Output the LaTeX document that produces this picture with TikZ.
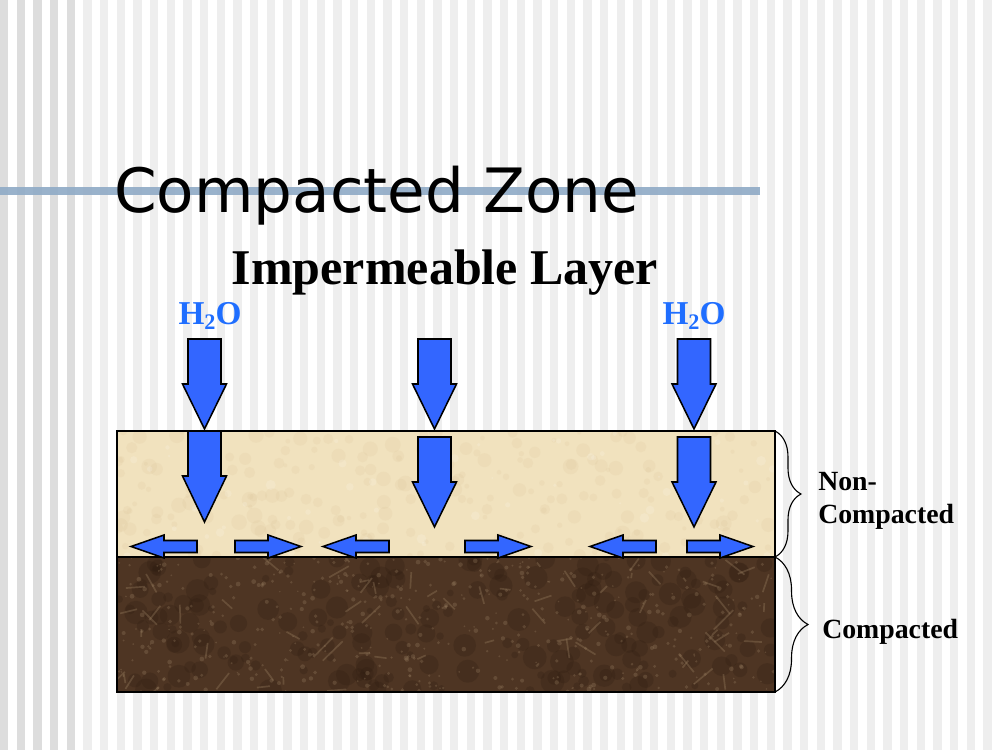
\documentclass[tikz,border=0pt]{standalone}
\usepackage{fontspec}
\setmainfont{Liberation Serif}
\newfontfamily\titlefont{DejaVu Sans}
\usepackage{tikz}
\usetikzlibrary{decorations.pathreplacing}
\definecolor{stripedk}{HTML}{DDDDDD}
\definecolor{stripelt}{HTML}{EEEEEE}
\definecolor{rule}{HTML}{8FAAC6}
\definecolor{water}{HTML}{3366FF}
\definecolor{htwo}{HTML}{1F6EFF}
\definecolor{sand}{HTML}{F1E2BE}
\definecolor{sanddk}{HTML}{D8C095}
\definecolor{soil}{HTML}{4E3523}
\definecolor{soillt}{HTML}{9A8062}
\definecolor{soildk}{HTML}{2E1D11}
\tikzset{
  blk/.style={draw=black, fill=water, line width=1.1pt, line join=miter},
  layer/.style={draw=black, line width=1.2pt},
  brc/.style={draw=black, line width=0.8pt, decorate, decoration={brace, amplitude=#1}},
  lab/.style={font=\bfseries\fontsize{20}{24}\selectfont, inner sep=0pt},
  h2o/.style={text=htwo, font=\bfseries\fontsize{24}{28}\selectfont, inner sep=0pt},
}
\newcommand{\subtwo}{\raisebox{-0.35ex}{\fontsize{16}{16}\selectfont 2}}
\begin{document}
\begin{tikzpicture}[x=0.72pt, y=-0.72pt]
  \useasboundingbox (0,0) rectangle (1000,750);
  \fill[white] (0,0) rectangle (1000,750);
  % background stripes
  \foreach \k in {0,...,4}
    \fill[stripedk] ({16.667*\k},0) rectangle +(8.4,750);
  \foreach \k in {5,...,59}
    \fill[stripelt] ({16.667*\k},0) rectangle +(8.4,750);
  \fill[rule, opacity=0.9] (0,187.5) rectangle (760,195.5);

  \node[font=\titlefont\fontsize{44}{50}\selectfont, anchor=base west, inner sep=0pt] (title) at (114,213) {Compacted Zone};
  \node[font=\bfseries\fontsize{36}{42}\selectfont, anchor=base, inner sep=0pt] (sub) at (445,285) {Impermeable Layer};
  \node[h2o, anchor=base] (h2oL) at (210,324) {H\subtwo O};
  \node[h2o, anchor=base] (h2oR) at (694,324) {H\subtwo O};

  % non-compacted layer
  \begin{scope}
    \clip (117,431) rectangle (775,557);
    \fill[sand] (117,431) rectangle (775,557);
    \pgfmathsetseed{11}
    \foreach \i in {1,...,220}
      \fill[sanddk, opacity=0.15] ({117+658*rnd},{431+126*rnd}) circle ({2+6*rnd});
    \foreach \i in {1,...,60}
      \fill[white, opacity=0.15] ({117+658*rnd},{431+126*rnd}) circle ({1+4*rnd});
  \end{scope}
  % compacted layer
  \begin{scope}
    \clip (117,557) rectangle (775,692);
    \fill[soil] (117,557) rectangle (775,692);
    \pgfmathsetseed{5}
    \foreach \i in {1,...,200}
      \fill[soildk, opacity=0.25] ({117+658*rnd},{557+135*rnd}) circle ({3+9*rnd});
    \foreach \i in {1,...,70}
      \draw[soillt, opacity=0.35, line width=1.2pt] ({117+658*rnd},{557+135*rnd}) -- ++({-20+40*rnd},{-20+40*rnd});
    \foreach \i in {1,...,500}
      \fill[soillt, opacity=0.3] ({117+658*rnd},{557+135*rnd}) circle ({0.8+1.6*rnd});
  \end{scope}
  \draw[layer] (117,431) rectangle (775,557);
  \draw[layer] (117,557) rectangle (775,692);

  % water arrows
  \foreach \x/\t/\h/\e in {204.5/339/384/429, 434.5/339/384/429, 694/339/384/429,
                           204.5/431/476/522, 434.5/437/482/527, 694/437/482/527}
    \draw[blk] (\x-16.5,\t) -- (\x+16.5,\t) -- (\x+16.5,\h) -- (\x+22,\h) -- (\x,\e)
      -- (\x-22,\h) -- (\x-16.5,\h) -- cycle;
  \foreach \x/\s in {131/33, 301/-33, 323/33, 531/-33, 590/33, 753/-33}
    \draw[blk] (\x,546.5) -- ({\x+(\s)},535) -- ({\x+(\s)},540.5) -- ({\x+2*(\s)},540.5)
      -- ({\x+2*(\s)},552.5) -- ({\x+(\s)},552.5) -- ({\x+(\s)},558) -- cycle;

  % braces
  \coordinate (ncT) at (775,431);
  \coordinate (ncB) at (775,557);
  \coordinate (cB) at (775,692);
  \draw[brc=18.7pt] (ncT) -- (ncB);
  \draw[brc=23.8pt] (ncB) -- (cB);
  \node[lab, anchor=north west, align=left] (nonc) at (818,472) {Non-\\Compacted};
  \node[lab, anchor=base west] (comp) at (822,638) {Compacted};
\end{tikzpicture}
\end{document}
